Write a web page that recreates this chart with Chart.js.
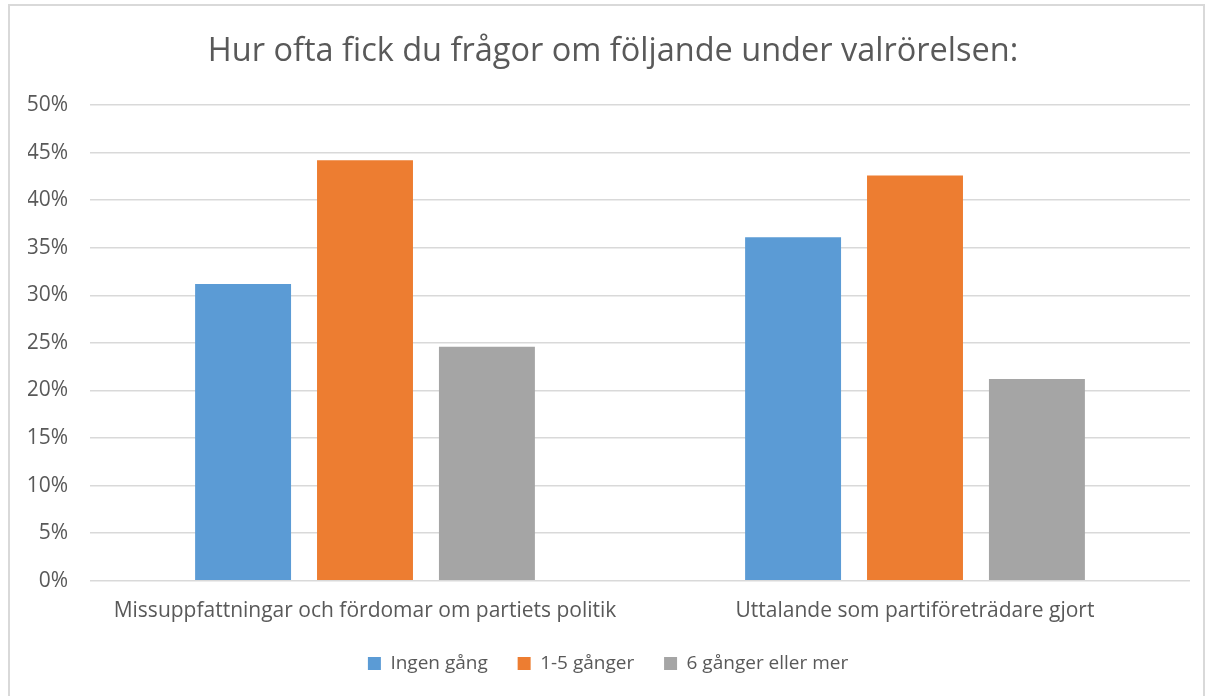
<!DOCTYPE html>
<html>
<head>
<meta charset="utf-8">
<script src="https://cdn.jsdelivr.net/npm/chart.js"></script>
<style>
  html, body { margin: 0; padding: 0; background: #fff; }
  #wrap { position: relative; width: 1214px; height: 696px; }
  #frame { position: absolute; left: 8px; top: 4px; width: 1197px; height: 700px; border: 2px solid #d9d9d9; box-sizing: border-box; pointer-events: none; }
  canvas { position: absolute; left: 0; top: 0; }
</style>
</head>
<body>
<div id="wrap">
  <canvas id="chart" width="1214" height="696"></canvas>
  <div id="frame"></div>
</div>
<script>
  const categories = ["Missuppfattningar och fördomar om partiets politik", "Uttalande som partiföreträdare gjort"]
  const seriesNames = ["Ingen gång", "1-5 gånger", "6 gånger eller mer"]
  const ingenGang = [31.2, 36.1]
  const enTillFem = [44.2, 42.6]
  const sexEllerMer = [24.6, 21.2]
  const colors = ["#5B9BD5", "#ED7D31", "#A5A5A5"]

  const textColor = "#595959"
  const fontFamily = "'Open Sans', 'Liberation Sans', sans-serif"

  new Chart(document.getElementById("chart"), {
    type: "bar",
    data: {
      labels: categories,
      datasets: [ingenGang, enTillFem, sexEllerMer].map((values, i) => ({
        label: seriesNames[i],
        data: values,
        backgroundColor: colors[i],
        borderWidth: 0,
        categoryPercentage: 0.665,
        barPercentage: 0.787,
      })),
    },
    options: {
      responsive: false,
      animation: false,
      layout: { padding: { left: 28, right: 16, top: 20, bottom: 13 } },
      plugins: {
        title: {
          display: true,
          text: "Hur ofta fick du frågor om följande under valrörelsen:",
          color: textColor,
          font: { family: fontFamily, size: 32.5, weight: "normal" },
          padding: { top: 12, bottom: 34 },
        },
        legend: {
          position: "bottom",
          labels: {
            color: textColor,
            font: { family: fontFamily, size: 19 },
            boxWidth: 13,
            boxHeight: 13,
            padding: 20,
            // a little extra room after each label, like the original legend
            generateLabels: (chart) =>
              Chart.defaults.plugins.legend.labels.generateLabels(chart).map((item) => ({
                ...item,
                text: item.text + "\u00A0\u00A0",
              })),
          },
        },
        tooltip: { enabled: false },
      },
      scales: {
        y: {
          min: 0,
          max: 50,
          ticks: {
            stepSize: 5,
            color: textColor,
            font: { family: fontFamily, size: 21 },
            padding: 22,
            callback: (v) => v + "%",
          },
          grid: { color: "#d9d9d9", lineWidth: 1.5, drawTicks: false },
          border: { display: false },
          afterFit: (scale) => { scale.width = 62 },
        },
        // empty spacer on the right so the title stays centred like the original
        yRight: {
          type: "linear",
          position: "right",
          ticks: { display: false },
          grid: { display: false },
          border: { display: false },
          afterFit: (scale) => { scale.width = 8 },
        },
        x: {
          ticks: {
            color: textColor,
            font: { family: fontFamily, size: 21 },
            padding: 10,
            maxRotation: 0,
          },
          grid: { display: false },
          border: { display: false },
        },
      },
    },
  })
</script>
</body>
</html>
